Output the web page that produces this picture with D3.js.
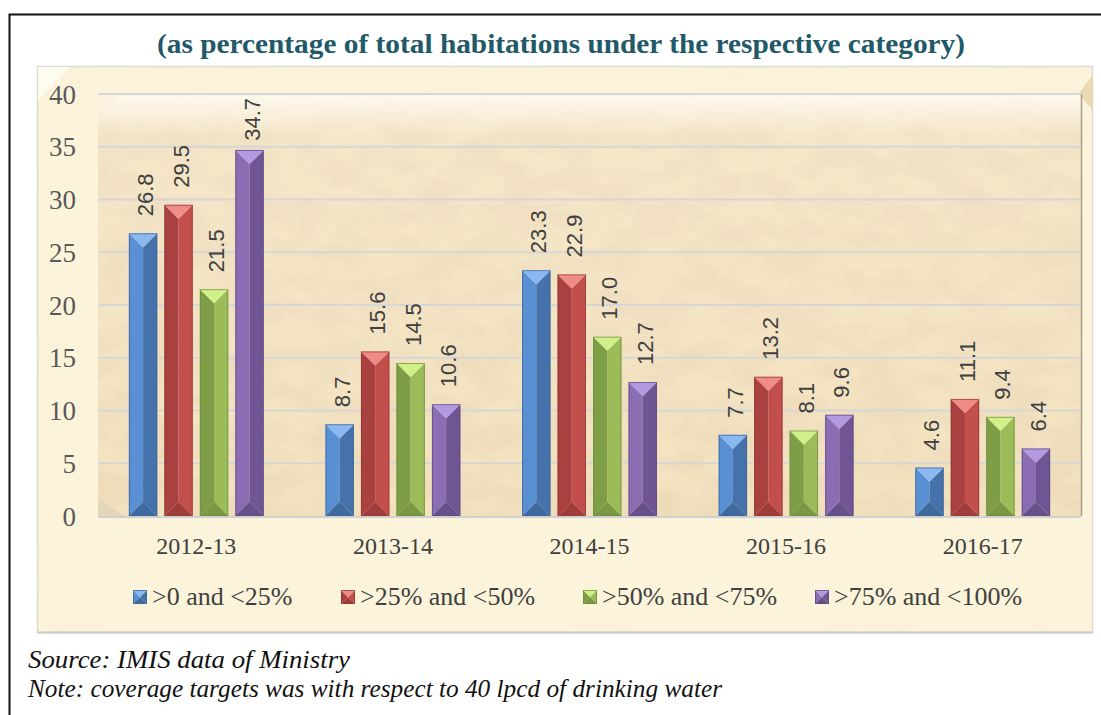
<!DOCTYPE html>
<html>
<head>
<meta charset="UTF-8">
<title>Habitations coverage</title>
<script src="https://d3js.org/d3.v7.min.js"></script>
<style>
  body { margin:0; background:#fff; }
  svg { display:block; }
</style>
</head>
<body>
<div id="chart"></div>
<script>
// categories, series, values (percent)
const years = ["2012-13", "2013-14", "2014-15", "2015-16", "2016-17"];
const seriesNames = [">0 and <25%", ">25% and <50%", ">50% and <75%", ">75% and <100%"];
const s1 = [26.8, 8.7, 23.3, 7.7, 4.6];
const s2 = [29.5, 15.6, 22.9, 13.2, 11.1];
const s3 = [21.5, 14.5, 17.0, 8.1, 9.4];
const s4 = [34.7, 10.6, 12.7, 9.6, 6.4];
const yTicks = [0, 5, 10, 15, 20, 25, 30, 35, 40];

const allSeries = [s1, s2, s3, s4];
// bevel shades per series: top, left, right, bottom, edge
const shades = [
  {top:"#8cb8f2", left:"#5890d3", right:"#4672ab", bot:"#3f6aa0", edge:"#3a6294"},
  {top:"#f08c88", left:"#a8413f", right:"#c24f4c", bot:"#a03c3a", edge:"#8e3533"},
  {top:"#d0f08a", left:"#7e9d47", right:"#9cbc59", bot:"#7a9844", edge:"#6d8a3c"},
  {top:"#b39ae0", left:"#8b6db3", right:"#6f5593", bot:"#65508a", edge:"#5b467c"}
];

const W = 1101, H = 715;
const plot = {left:98, right:1081, top:94, bottom:516};
const serif = "'Liberation Serif', 'Times New Roman', serif";

const svg = d3.select("#chart").append("svg")
  .attr("width", W).attr("height", H)
  .style("font-family", serif);

const defs = svg.append("defs");

// parchment texture
const f = defs.append("filter").attr("id", "paper")
  .attr("x", 0).attr("y", 0).attr("width", "100%").attr("height", "100%");
f.append("feTurbulence").attr("type", "fractalNoise")
  .attr("baseFrequency", "0.022 0.04").attr("numOctaves", 4).attr("seed", 7).attr("result", "n");
f.append("feColorMatrix").attr("in", "n").attr("type", "matrix")
  .attr("values", "0 0 0 0 0.85  0 0 0 0 0.71  0 0 0 0 0.49  3.2 0 0 0 -1.15")
  .attr("result", "tint");
f.append("feComposite").attr("in", "tint").attr("in2", "SourceGraphic").attr("operator", "over");

const f2 = defs.append("filter").attr("id", "paperLight")
  .attr("x", 0).attr("y", 0).attr("width", "100%").attr("height", "100%");
f2.append("feTurbulence").attr("type", "fractalNoise")
  .attr("baseFrequency", "0.01 0.02").attr("numOctaves", 3).attr("seed", 2).attr("result", "n");
f2.append("feColorMatrix").attr("in", "n").attr("type", "matrix")
  .attr("values", "0 0 0 0 0.94  0 0 0 0 0.87  0 0 0 0 0.68  1.0 0 0 0 -0.44")
  .attr("result", "tint");
f2.append("feComposite").attr("in", "tint").attr("in2", "SourceGraphic").attr("operator", "over");

const glow = defs.append("linearGradient").attr("id", "glow")
  .attr("x1", 0).attr("y1", 0).attr("x2", 0).attr("y2", 1);
glow.append("stop").attr("offset", "0").attr("stop-color", "#fffaf0").attr("stop-opacity", 0.95);
glow.append("stop").attr("offset", "0.1").attr("stop-color", "#fffaf0").attr("stop-opacity", 0.2);
glow.append("stop").attr("offset", "1").attr("stop-color", "#fffaf0").attr("stop-opacity", 0);

// outer black frame
svg.append("rect").attr("x", 9.5).attr("y", 14.5).attr("width", 1100).attr("height", 720)
  .attr("fill", "none").attr("stroke", "#111").attr("stroke-width", 2);

// title
svg.append("text").attr("x", 561).attr("y", 53).attr("text-anchor", "middle")
  .attr("font-size", 28).attr("font-weight", "bold").attr("fill", "#215968")
  .attr("textLength", 808).attr("lengthAdjust", "spacingAndGlyphs")
  .text("(as percentage of total habitations under the respective category)");

// chart area
svg.append("rect").attr("x", 37).attr("y", 66).attr("width", 1056).attr("height", 566)
  .attr("fill", "#fcf4da").attr("filter", "url(#paperLight)");
svg.append("rect").attr("x", 37.5).attr("y", 66.5).attr("width", 1055).attr("height", 566)
  .attr("fill", "none").attr("stroke", "#dcdad4").attr("stroke-width", 1.5);
svg.append("line").attr("x1", 37).attr("x2", 1093).attr("y1", 632.5).attr("y2", 632.5)
  .attr("stroke", "#cfcac0").attr("stroke-width", 2);
svg.append("path").attr("d", "M38,67 L70,67 L38,100 Z").attr("fill", "#fffdf4").attr("opacity", 0.8);
svg.append("path").attr("d", "M1093,75 L1093,110 L1078,94 Z").attr("fill", "#e6d2a6").attr("opacity", 0.8);

// plot area (back wall)
svg.append("rect").attr("x", plot.left).attr("y", plot.top)
  .attr("width", plot.right - plot.left).attr("height", plot.bottom - plot.top)
  .attr("fill", "#f3e2bf").attr("filter", "url(#paper)");
svg.append("rect").attr("x", plot.left).attr("y", plot.top)
  .attr("width", plot.right - plot.left).attr("height", plot.bottom - plot.top)
  .attr("fill", "url(#glow)");
svg.append("path").attr("d", `M${plot.left},${plot.top} L${plot.left + 22},${plot.top} L${plot.left},${plot.top + 22} Z`)
  .attr("fill", "#faf1dc").attr("opacity", 0.8);
svg.append("path").attr("d", `M${plot.left},${plot.bottom} L${plot.left},${plot.bottom-18} L${plot.left+26},${plot.bottom} Z`)
  .attr("fill", "#e4d6bb");
svg.append("line").attr("x1", plot.right + 0.5).attr("x2", plot.right + 0.5)
  .attr("y1", plot.top).attr("y2", plot.bottom).attr("stroke", "#a89c86").attr("stroke-width", 1.5);

// scales
const y = d3.scaleLinear().domain([0, 40]).range([plot.bottom, plot.top]);
const x0 = d3.scaleBand().domain(years).range([plot.left, plot.right])
  .paddingInner(0.278).paddingOuter(0.139);
const x1 = d3.scaleBand().domain(d3.range(4)).range([0, x0.bandwidth()])
  .paddingInner(0.2).paddingOuter(0.1);

// gridlines
svg.append("g").selectAll("line").data(yTicks.filter(d => d > 0)).join("line")
  .attr("x1", plot.left).attr("x2", plot.right)
  .attr("y1", d => y(d)).attr("y2", d => y(d))
  .attr("stroke", "#d6d6d6").attr("stroke-width", 2);
svg.append("line").attr("x1", plot.left).attr("x2", plot.right)
  .attr("y1", plot.bottom + 1).attr("y2", plot.bottom + 1)
  .attr("stroke", "#d0d0d0").attr("stroke-width", 2);

// y axis
const yAxis = svg.append("g").attr("transform", "translate(76,0)")
  .call(d3.axisLeft(y).tickValues(yTicks).tickSize(0).tickPadding(0));
yAxis.attr("font-family", serif);
yAxis.select(".domain").remove();
yAxis.selectAll("text").attr("font-size", 27).attr("fill", "#595959").attr("dy", "0.34em");

// x axis labels
const xAxis = svg.append("g").attr("transform", `translate(0,${plot.bottom})`)
  .call(d3.axisBottom(x0).tickSize(0).tickPadding(0));
xAxis.attr("font-family", serif);
xAxis.select(".domain").remove();
xAxis.selectAll("text").attr("font-size", 24).attr("fill", "#404040")
  .attr("y", 38).attr("dy", 0);

// bars with bevel
function bevelBar(g, bx, bw, top, bottom, sh) {
  const xc = bx + bw / 2, x2 = bx + bw;
  const h = Math.min(bw / 2, (bottom - top) / 2);
  g.append("path").attr("d", `M${bx},${top} L${xc},${top + h} L${xc},${bottom - h} L${bx},${bottom} Z`).attr("fill", sh.left);
  g.append("path").attr("d", `M${x2},${top} L${xc},${top + h} L${xc},${bottom - h} L${x2},${bottom} Z`).attr("fill", sh.right);
  g.append("path").attr("d", `M${bx},${top} L${x2},${top} L${xc},${top + h} Z`).attr("fill", sh.top);
  g.append("path").attr("d", `M${bx},${bottom} L${x2},${bottom} L${xc},${bottom - h} Z`).attr("fill", sh.bot);
  g.append("rect").attr("x", bx + 0.5).attr("y", top + 0.5).attr("width", bw - 1).attr("height", bottom - top - 1)
    .attr("fill", "none").attr("stroke", sh.edge).attr("stroke-width", 1).attr("opacity", 0.7);
}

const barsG = svg.append("g");
years.forEach((yr, i) => {
  allSeries.forEach((s, k) => {
    const bx = x0(yr) + x1(k), bw = x1.bandwidth();
    const g = barsG.append("g");
    bevelBar(g, bx, bw, y(s[i]), y(0), shades[k]);
    const cx = bx + bw / 2;
    const t = barsG.append("text")
      .attr("font-family", "'Liberation Sans', Arial, sans-serif")
      .attr("font-size", 22).attr("fill", "#404040")
      .text(s[i].toFixed(1));
    const len = t.node().getComputedTextLength();
    // keep label inside the plot, like the original
    const ty = Math.max(y(s[i]) - 17, plot.top + 4 + len);
    t.attr("transform", `translate(${cx + 10},${ty}) rotate(-90)`);
  });
});

// legend
const legendX = [133, 341, 583, 815];
const lg = svg.append("g");
seriesNames.forEach((name, k) => {
  const lx = legendX[k], ly = 590, sz = 14;
  const g = lg.append("g");
  bevelBar(g, lx, sz, ly, ly + sz, shades[k]);
  lg.append("text").attr("x", lx + 19).attr("y", 605)
    .attr("font-size", 26).attr("fill", "#404040").text(name);
});

// footnotes
svg.append("text").attr("x", 28).attr("y", 668).attr("font-size", 26)
  .attr("font-style", "italic").attr("fill", "#111")
  .attr("textLength", 322).attr("lengthAdjust", "spacingAndGlyphs")
  .text("Source: IMIS data of Ministry");
svg.append("text").attr("x", 28).attr("y", 697).attr("font-size", 26)
  .attr("font-style", "italic").attr("fill", "#111")
  .attr("textLength", 694).attr("lengthAdjust", "spacingAndGlyphs")
  .text("Note: coverage targets was with respect to 40 lpcd of drinking water");
</script>
</body>
</html>
